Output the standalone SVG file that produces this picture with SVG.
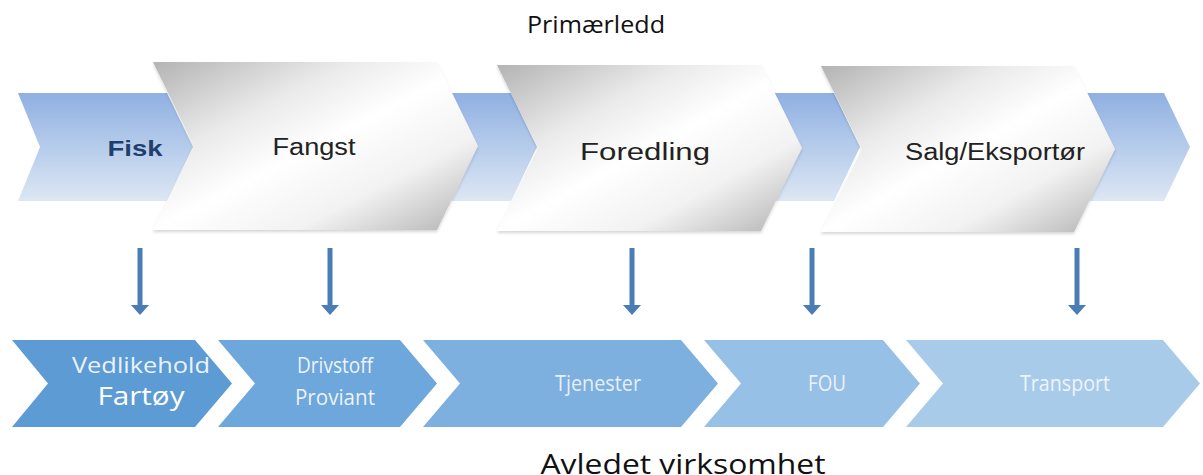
<svg xmlns="http://www.w3.org/2000/svg" width="1203" height="475" viewBox="0 0 1203 475">
  <defs>
    <linearGradient id="blueGrad" x1="0" y1="0" x2="0" y2="1">
      <stop offset="0" stop-color="#8fb0e2"/>
      <stop offset="1" stop-color="#dde7f4"/>
    </linearGradient>
    <linearGradient id="grayGrad" x1="0" y1="0" x2="1" y2="1">
      <stop offset="0" stop-color="#b3b3b3"/>
      <stop offset="0.3" stop-color="#eaeaea"/>
      <stop offset="0.5" stop-color="#ffffff"/>
      <stop offset="0.72" stop-color="#f2f2f2"/>
      <stop offset="1" stop-color="#b0b0b0"/>
    </linearGradient>
    <filter id="shadow" x="-5%" y="-5%" width="110%" height="115%">
      <feDropShadow dx="0" dy="2" stdDeviation="1.5" flood-color="#000" flood-opacity="0.16"/>
    </filter>
    <marker id="arrowHead" viewBox="0 0 10 18" refX="0" refY="9" markerWidth="10" markerHeight="18" markerUnits="userSpaceOnUse" orient="auto">
      <path d="M0,0 L10,9 L0,18 Z" fill="#4a7cb6"/>
    </marker>
    <style>
      .blue { fill: url(#blueGrad); }
      .gray { fill: url(#grayGrad); filter: url(#shadow); }
      .grayText { font-family: "Liberation Sans", Arial, sans-serif; font-size: 23px; fill: #222; text-anchor: middle; }
      .fisk { font-family: "Liberation Sans", Arial, sans-serif; font-size: 22px; font-weight: bold; fill: #1f3f6e; text-anchor: middle; }
      .title { font-family: "Open Sans", "DejaVu Sans", sans-serif; fill: #111; text-anchor: middle; }
      .low { font-family: "Open Sans", "DejaVu Sans", sans-serif; fill: #ffffff; text-anchor: middle; }
      .arrow { stroke: #4a7cb6; stroke-width: 5; fill: none; }
    </style>
  </defs>

  <text class="title" x="596" y="33" font-size="23" textLength="138" lengthAdjust="spacingAndGlyphs">Primærledd</text>

  <!-- top blue chevrons -->
  <g id="fisk">
    <polygon class="blue" points="18,93 167,93 193,147 167,201 18,201 40,147"/>
    <text class="fisk" x="135" y="156" textLength="55" lengthAdjust="spacingAndGlyphs">Fisk</text>
  </g>
  <g id="blue2">
    <polygon class="blue" points="420,93 511,93 537,147 511,201 420,201 446,147"/>
  </g>
  <g id="blue3">
    <polygon class="blue" points="745,93 834,93 860,147 834,201 745,201 771,147"/>
  </g>
  <g id="blue4">
    <polygon class="blue" points="1060,93 1164,93 1190,147 1164,201 1060,201 1086,147"/>
  </g>

  <!-- gray chevrons -->
  <g id="fangst">
    <polygon class="gray" points="153,62 437,62 478,146 437,230 153,230 194,146"/>
    <text class="grayText" x="314" y="155" textLength="83" lengthAdjust="spacingAndGlyphs">Fangst</text>
  </g>
  <g id="foredling">
    <polygon class="gray" points="497,65 761,65 802,148 761,231 497,231 538,148"/>
    <text class="grayText" x="645" y="160" textLength="130" lengthAdjust="spacingAndGlyphs">Foredling</text>
  </g>
  <g id="salg">
    <polygon class="gray" points="821,66 1074,66 1115,149 1074,232 821,232 862,149"/>
    <text class="grayText" x="995" y="160" textLength="180" lengthAdjust="spacingAndGlyphs">Salg/Eksportør</text>
  </g>

  <!-- connectors -->
  <g id="connectors">
    <line class="arrow" x1="140" y1="248" x2="140" y2="305" marker-end="url(#arrowHead)"/>
    <line class="arrow" x1="330" y1="248" x2="330" y2="305" marker-end="url(#arrowHead)"/>
    <line class="arrow" x1="632" y1="248" x2="632" y2="305" marker-end="url(#arrowHead)"/>
    <line class="arrow" x1="812" y1="248" x2="812" y2="305" marker-end="url(#arrowHead)"/>
    <line class="arrow" x1="1077" y1="248" x2="1077" y2="305" marker-end="url(#arrowHead)"/>
  </g>

  <!-- bottom chevrons -->
  <g id="vedlikehold">
    <polygon fill="#5d9bd5" points="12,340 195,340 232,383.5 195,427 12,427 48,383.5"/>
    <text class="low" x="141" y="373" font-size="21" textLength="138" lengthAdjust="spacingAndGlyphs" fill-opacity="0.9">Vedlikehold</text>
    <text class="low" x="141" y="405" font-size="25" textLength="87" lengthAdjust="spacingAndGlyphs">Fartøy</text>
  </g>
  <g id="drivstoff">
    <polygon fill="#6ea7db" points="218,340 400,340 437,383.5 400,427 218,427 255,383.5"/>
    <text class="low" x="335" y="373" font-size="21" textLength="76" lengthAdjust="spacingAndGlyphs" fill-opacity="0.88">Drivstoff</text>
    <text class="low" x="335" y="405" font-size="21" textLength="80" lengthAdjust="spacingAndGlyphs" fill-opacity="0.88">Proviant</text>
  </g>
  <g id="tjenester">
    <polygon fill="#7db0df" points="423,340 681,340 718,383.5 681,427 423,427 460,383.5"/>
    <text class="low" x="598" y="391" font-size="21" textLength="86" lengthAdjust="spacingAndGlyphs" fill-opacity="0.82">Tjenester</text>
  </g>
  <g id="fou">
    <polygon fill="#97c0e6" points="704,340 883,340 920,383.5 883,427 704,427 741,383.5"/>
    <text class="low" x="827" y="391" font-size="21" textLength="38" lengthAdjust="spacingAndGlyphs" fill-opacity="0.82">FOU</text>
  </g>
  <g id="transport">
    <polygon fill="#a9cbea" points="906,340 1163,340 1200,383.5 1163,427 906,427 943,383.5"/>
    <text class="low" x="1065" y="391" font-size="21" textLength="90" lengthAdjust="spacingAndGlyphs" fill-opacity="0.82">Transport</text>
  </g>

  <text class="title" x="683" y="474" font-size="27" textLength="285" lengthAdjust="spacingAndGlyphs">Avledet virksomhet</text>
</svg>
